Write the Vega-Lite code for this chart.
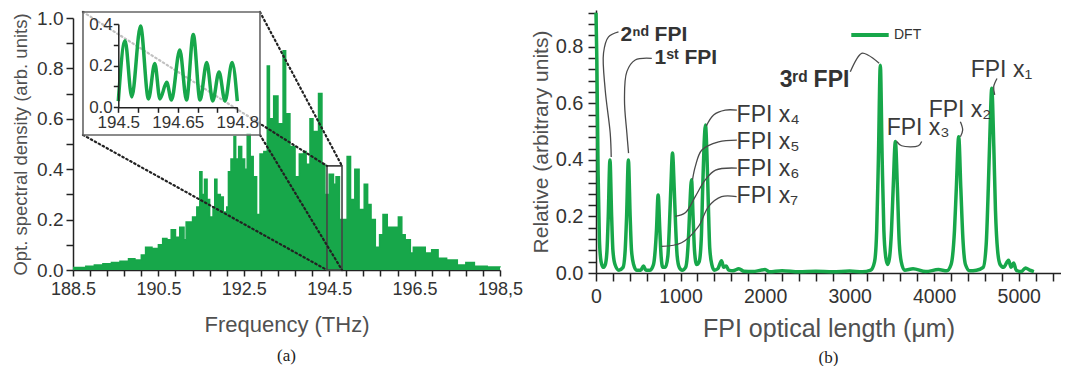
{
  "$schema": "https://vega.github.io/schema/vega-lite/v6.json",
  "background": "white",
  "padding": {"left": 11, "top": 2, "right": 0, "bottom": 0},
  "spacing": 7,
  "config": {
    "font": "Liberation Sans",
    "view": {"stroke": null},
    "axis": {"grid": false, "labelColor": "#333", "titleColor": "#505050", "domainColor": "#222", "tickColor": "#222", "domainWidth": 1.5, "tickWidth": 1.5, "titleFontWeight": "normal", "labelFont": "Liberation Sans", "titleFont": "Liberation Sans", "labelOverlap": false, "labelFlush": false, "tickCount": 100}
  },
  "datasets": {
    "spectrum": [
      {"f": 188.5, "v": 0.01}, {"f": 188.8, "v": 0.015}, {"f": 189.0, "v": 0.02}, {"f": 189.2, "v": 0.025}, {"f": 189.4, "v": 0.03}, {"f": 189.6, "v": 0.035}, {"f": 189.8, "v": 0.045}, {"f": 189.95, "v": 0.04}, {"f": 190.1, "v": 0.06}, {"f": 190.2, "v": 0.09}, {"f": 190.35, "v": 0.085}, {"f": 190.5, "v": 0.1}, {"f": 190.6, "v": 0.125}, {"f": 190.7, "v": 0.12}, {"f": 190.8, "v": 0.16}, {"f": 190.9, "v": 0.13}, {"f": 191.0, "v": 0.17}, {"f": 191.1, "v": 0.12}, {"f": 191.15, "v": 0.19}, {"f": 191.3, "v": 0.21}, {"f": 191.4, "v": 0.25}, {"f": 191.47, "v": 0.39}, {"f": 191.52, "v": 0.3}, {"f": 191.58, "v": 0.36}, {"f": 191.64, "v": 0.28}, {"f": 191.7, "v": 0.21}, {"f": 191.78, "v": 0.25}, {"f": 191.82, "v": 0.36}, {"f": 191.87, "v": 0.3}, {"f": 191.95, "v": 0.29}, {"f": 192.02, "v": 0.23}, {"f": 192.1, "v": 0.25}, {"f": 192.14, "v": 0.39}, {"f": 192.2, "v": 0.44}, {"f": 192.27, "v": 0.53}, {"f": 192.31, "v": 0.44}, {"f": 192.38, "v": 0.49}, {"f": 192.45, "v": 0.44}, {"f": 192.52, "v": 0.4}, {"f": 192.58, "v": 0.54}, {"f": 192.65, "v": 0.45}, {"f": 192.72, "v": 0.37}, {"f": 192.8, "v": 0.22}, {"f": 192.88, "v": 0.46}, {"f": 192.97, "v": 0.47}, {"f": 193.05, "v": 0.81}, {"f": 193.1, "v": 0.6}, {"f": 193.2, "v": 0.69}, {"f": 193.3, "v": 0.58}, {"f": 193.42, "v": 0.87}, {"f": 193.48, "v": 0.62}, {"f": 193.58, "v": 0.49}, {"f": 193.7, "v": 0.37}, {"f": 193.8, "v": 0.46}, {"f": 193.9, "v": 0.47}, {"f": 193.96, "v": 0.42}, {"f": 194.05, "v": 0.6}, {"f": 194.12, "v": 0.55}, {"f": 194.25, "v": 0.7}, {"f": 194.33, "v": 0.42}, {"f": 194.4, "v": 0.3}, {"f": 194.5, "v": 0.38}, {"f": 194.6, "v": 0.34}, {"f": 194.66, "v": 0.37}, {"f": 194.74, "v": 0.2}, {"f": 194.92, "v": 0.45}, {"f": 195.0, "v": 0.28}, {"f": 195.1, "v": 0.4}, {"f": 195.2, "v": 0.24}, {"f": 195.32, "v": 0.34}, {"f": 195.4, "v": 0.26}, {"f": 195.48, "v": 0.2}, {"f": 195.58, "v": 0.09}, {"f": 195.68, "v": 0.14}, {"f": 195.76, "v": 0.22}, {"f": 195.86, "v": 0.17}, {"f": 196.0, "v": 0.17}, {"f": 196.12, "v": 0.21}, {"f": 196.2, "v": 0.14}, {"f": 196.28, "v": 0.12}, {"f": 196.4, "v": 0.067}, {"f": 196.47, "v": 0.09}, {"f": 196.6, "v": 0.09}, {"f": 196.75, "v": 0.067}, {"f": 196.9, "v": 0.08}, {"f": 197.05, "v": 0.047}, {"f": 197.25, "v": 0.04}, {"f": 197.5, "v": 0.02}, {"f": 197.7, "v": 0.03}, {"f": 197.9, "v": 0.015}, {"f": 198.2, "v": 0.012}, {"f": 198.5, "v": 0.01}
    ],
    "zoomLines": [
      {"id": "L1", "f": 192.879, "v": 1.024}, {"id": "L1", "f": 194.8, "v": 0.413},
      {"id": "L2", "f": 192.879, "v": 0.536}, {"id": "L2", "f": 194.8, "v": 0.0},
      {"id": "L3", "f": 188.734, "v": 0.536}, {"id": "L3", "f": 194.448, "v": 0.0},
      {"id": "L4", "f": 188.734, "v": 1.024}, {"id": "L4", "f": 194.448, "v": 0.413}
    ],
    "insetBox": [{"f": 188.734, "f2": 192.879, "v": 0.536, "v2": 1.024}],
    "zoomRect": [{"f": 194.448, "f2": 194.8, "v": 0.0, "v2": 0.413}],
    "inset": [
      {"fi": 194.5, "vi": 0.03}, {"fi": 194.517, "vi": 0.32}, {"fi": 194.534, "vi": 0.05}, {"fi": 194.556, "vi": 0.39}, {"fi": 194.576, "vi": 0.04}, {"fi": 194.592, "vi": 0.21}, {"fi": 194.605, "vi": 0.04}, {"fi": 194.622, "vi": 0.12}, {"fi": 194.634, "vi": 0.035}, {"fi": 194.655, "vi": 0.275}, {"fi": 194.672, "vi": 0.035}, {"fi": 194.689, "vi": 0.35}, {"fi": 194.706, "vi": 0.035}, {"fi": 194.723, "vi": 0.215}, {"fi": 194.738, "vi": 0.03}, {"fi": 194.754, "vi": 0.17}, {"fi": 194.769, "vi": 0.03}, {"fi": 194.787, "vi": 0.215}, {"fi": 194.8, "vi": 0.03}
    ],
    "dft": [
      {"um": 0, "r": 0.92}, {"um": 10, "r": 0.75}, {"um": 25, "r": 0.35}, {"um": 40, "r": 0.12}, {"um": 60, "r": 0.04}, {"um": 85, "r": 0.02}, {"um": 110, "r": 0.03}, {"um": 130, "r": 0.08}, {"um": 145, "r": 0.2}, {"um": 165, "r": 0.4}, {"um": 185, "r": 0.2}, {"um": 200, "r": 0.08}, {"um": 225, "r": 0.03}, {"um": 270, "r": 0.01}, {"um": 320, "r": 0.02}, {"um": 345, "r": 0.08}, {"um": 362, "r": 0.2}, {"um": 383, "r": 0.4}, {"um": 404, "r": 0.2}, {"um": 420, "r": 0.08}, {"um": 445, "r": 0.03}, {"um": 480, "r": 0.01}, {"um": 530, "r": 0.01}, {"um": 562, "r": 0.025}, {"um": 590, "r": 0.01}, {"um": 640, "r": 0.01}, {"um": 680, "r": 0.03}, {"um": 700, "r": 0.08}, {"um": 715, "r": 0.15}, {"um": 735, "r": 0.276}, {"um": 755, "r": 0.15}, {"um": 770, "r": 0.06}, {"um": 790, "r": 0.02}, {"um": 820, "r": 0.02}, {"um": 850, "r": 0.06}, {"um": 870, "r": 0.18}, {"um": 885, "r": 0.3}, {"um": 905, "r": 0.424}, {"um": 925, "r": 0.3}, {"um": 940, "r": 0.18}, {"um": 960, "r": 0.06}, {"um": 985, "r": 0.02}, {"um": 1020, "r": 0.01}, {"um": 1060, "r": 0.02}, {"um": 1080, "r": 0.06}, {"um": 1098, "r": 0.15}, {"um": 1112, "r": 0.25}, {"um": 1130, "r": 0.33}, {"um": 1148, "r": 0.2}, {"um": 1165, "r": 0.08}, {"um": 1190, "r": 0.03}, {"um": 1220, "r": 0.04}, {"um": 1245, "r": 0.12}, {"um": 1262, "r": 0.3}, {"um": 1278, "r": 0.45}, {"um": 1295, "r": 0.523}, {"um": 1312, "r": 0.42}, {"um": 1328, "r": 0.25}, {"um": 1345, "r": 0.09}, {"um": 1370, "r": 0.03}, {"um": 1400, "r": 0.01}, {"um": 1440, "r": 0.015}, {"um": 1485, "r": 0.043}, {"um": 1510, "r": 0.02}, {"um": 1540, "r": 0.025}, {"um": 1570, "r": 0.01}, {"um": 1620, "r": 0.008}, {"um": 1690, "r": 0.015}, {"um": 1750, "r": 0.006}, {"um": 1850, "r": 0.005}, {"um": 2000, "r": 0.012}, {"um": 2050, "r": 0.004}, {"um": 2200, "r": 0.008}, {"um": 2400, "r": 0.004}, {"um": 2600, "r": 0.006}, {"um": 2800, "r": 0.004}, {"um": 3000, "r": 0.007}, {"um": 3150, "r": 0.004}, {"um": 3250, "r": 0.01}, {"um": 3295, "r": 0.04}, {"um": 3320, "r": 0.15}, {"um": 3340, "r": 0.4}, {"um": 3363, "r": 0.735}, {"um": 3385, "r": 0.4}, {"um": 3405, "r": 0.15}, {"um": 3430, "r": 0.05}, {"um": 3450, "r": 0.03}, {"um": 3470, "r": 0.05}, {"um": 3495, "r": 0.15}, {"um": 3515, "r": 0.3}, {"um": 3541, "r": 0.465}, {"um": 3565, "r": 0.3}, {"um": 3585, "r": 0.12}, {"um": 3610, "r": 0.04}, {"um": 3650, "r": 0.01}, {"um": 3750, "r": 0.015}, {"um": 3900, "r": 0.005}, {"um": 4050, "r": 0.012}, {"um": 4150, "r": 0.008}, {"um": 4200, "r": 0.03}, {"um": 4240, "r": 0.15}, {"um": 4262, "r": 0.3}, {"um": 4290, "r": 0.482}, {"um": 4315, "r": 0.3}, {"um": 4340, "r": 0.12}, {"um": 4370, "r": 0.03}, {"um": 4420, "r": 0.008}, {"um": 4500, "r": 0.01}, {"um": 4580, "r": 0.02}, {"um": 4615, "r": 0.1}, {"um": 4640, "r": 0.3}, {"um": 4660, "r": 0.5}, {"um": 4681, "r": 0.653}, {"um": 4705, "r": 0.45}, {"um": 4725, "r": 0.22}, {"um": 4750, "r": 0.08}, {"um": 4780, "r": 0.03}, {"um": 4820, "r": 0.02}, {"um": 4880, "r": 0.045}, {"um": 4910, "r": 0.02}, {"um": 4940, "r": 0.035}, {"um": 4970, "r": 0.01}, {"um": 5030, "r": 0.005}, {"um": 5080, "r": 0.018}, {"um": 5130, "r": 0.01}, {"um": 5180, "r": 0.005}
    ],
    "leaders": [
      {"id": "a", "i": 0, "um": 266, "r": 0.853}, {"id": "a", "i": 1, "um": 148, "r": 0.835}, {"id": "a", "i": 2, "um": 89, "r": 0.778}, {"id": "a", "i": 3, "um": 109, "r": 0.647}, {"id": "a", "i": 4, "um": 168, "r": 0.495}, {"id": "a", "i": 5, "um": 180, "r": 0.41},
      {"id": "b", "i": 0, "um": 660, "r": 0.759}, {"id": "b", "i": 1, "um": 464, "r": 0.753}, {"id": "b", "i": 2, "um": 365, "r": 0.712}, {"id": "b", "i": 3, "um": 337, "r": 0.612}, {"id": "b", "i": 4, "um": 365, "r": 0.495}, {"id": "b", "i": 5, "um": 385, "r": 0.424},
      {"id": "c", "i": 0, "um": 3008, "r": 0.712}, {"id": "c", "i": 1, "um": 3142, "r": 0.777}, {"id": "c", "i": 2, "um": 3221, "r": 0.77}, {"id": "c", "i": 3, "um": 3349, "r": 0.742},
      {"id": "d", "i": 0, "um": 1666, "r": 0.576}, {"id": "d", "i": 1, "um": 1529, "r": 0.576}, {"id": "d", "i": 2, "um": 1391, "r": 0.559}, {"id": "d", "i": 3, "um": 1305, "r": 0.52},
      {"id": "e", "i": 0, "um": 1666, "r": 0.47}, {"id": "e", "i": 1, "um": 1450, "r": 0.464}, {"id": "e", "i": 2, "um": 1252, "r": 0.435}, {"id": "e", "i": 3, "um": 1174, "r": 0.376}, {"id": "e", "i": 4, "um": 1142, "r": 0.33},
      {"id": "f", "i": 0, "um": 1666, "r": 0.371}, {"id": "f", "i": 1, "um": 1414, "r": 0.364}, {"id": "f", "i": 2, "um": 1292, "r": 0.329}, {"id": "f", "i": 3, "um": 1174, "r": 0.27}, {"id": "f", "i": 4, "um": 1056, "r": 0.213}, {"id": "f", "i": 5, "um": 937, "r": 0.2},
      {"id": "g", "i": 0, "um": 1663, "r": 0.27}, {"id": "g", "i": 1, "um": 1485, "r": 0.27}, {"id": "g", "i": 2, "um": 1331, "r": 0.235}, {"id": "g", "i": 3, "um": 1213, "r": 0.165}, {"id": "g", "i": 4, "um": 1012, "r": 0.107}, {"id": "g", "i": 5, "um": 775, "r": 0.094},
      {"id": "h", "i": 0, "um": 3852, "r": 0.465}, {"id": "h", "i": 1, "um": 3813, "r": 0.45}, {"id": "h", "i": 2, "um": 3615, "r": 0.45}, {"id": "h", "i": 3, "um": 3556, "r": 0.465},
      {"id": "k", "i": 0, "um": 4310, "r": 0.535}, {"id": "k", "i": 1, "um": 4337, "r": 0.506}, {"id": "k", "i": 2, "um": 4310, "r": 0.482},
      {"id": "m", "i": 0, "um": 4743, "r": 0.688}, {"id": "m", "i": 1, "um": 4704, "r": 0.659}, {"id": "m", "i": 2, "um": 4716, "r": 0.63}
    ],
    "boldLabels": [
      {"um": 290, "r": 0.841, "t": "2ⁿᵈ FPI"},
      {"um": 692, "r": 0.76, "t": "1ˢᵗ FPI"}
    ],
    "bigBoldLabels": [
      {"um": 2172, "r": 0.682, "t": "3ʳᵈ FPI"}
    ],
    "fpiLabels": [
      {"um": 1663, "r": 0.558, "t": "FPI x₄"},
      {"um": 1663, "r": 0.463, "t": "FPI x₅"},
      {"um": 1663, "r": 0.368, "t": "FPI x₆"},
      {"um": 1663, "r": 0.273, "t": "FPI x₇"},
      {"um": 3438, "r": 0.513, "t": "FPI x₃"},
      {"um": 3935, "r": 0.576, "t": "FPI x₂"},
      {"um": 4432, "r": 0.717, "t": "FPI x₁"}
    ]
  },
  "hconcat": [
    {
      "width": 427,
      "height": 260,
      "title": {"text": "(a)", "orient": "bottom", "font": "Liberation Serif", "fontSize": 17, "fontWeight": "normal", "color": "#222", "offset": 13},
      "layer": [
        {
          "layer": [
            {
              "data": {"name": "spectrum"},
              "mark": {"type": "area", "interpolate": "step-after", "color": "#17a74a", "opacity": 1, "line": {"color": "#17a74a", "strokeWidth": 1.5}},
              "encoding": {
                "x": {"field": "f", "type": "quantitative", "scale": {"domain": [188.5, 198.5], "nice": false, "zero": false},
                  "axis": {"title": "Frequency (THz)", "titleFontSize": 22, "labelFontSize": 18, "tickSize": 6, "labelPadding": 4, "titlePadding": 16, "labelOverlap": false, "labelFlush": false, "tickCount": 100,
                    "values": [188.5, 188.9, 189.3, 189.7, 190.1, 190.5, 190.9, 191.3, 191.7, 192.1, 192.5, 192.9, 193.3, 193.7, 194.1, 194.5, 194.9, 195.3, 195.7, 196.1, 196.5, 196.9, 197.3, 197.7, 198.1, 198.5],
                    "labelExpr": "abs((datum.value-188.5)/2 - round((datum.value-188.5)/2)) < 0.001 ? (datum.value > 198.4 ? '198,5' : format(datum.value, '.1f')) : ''"}},
                "y": {"field": "v", "type": "quantitative", "scale": {"domain": [0, 1], "range": [260, 8], "nice": false},
                  "axis": {"title": "Opt. spectral density (arb. units)", "titleFontSize": 18.5, "labelFontSize": 19, "tickSize": 7, "labelPadding": 3, "titlePadding": 6, "labelOverlap": false, "tickCount": 100,
                    "values": [0, 0.1, 0.2, 0.3, 0.4, 0.5, 0.6, 0.7, 0.8, 0.9, 1.0],
                    "labelExpr": "abs(datum.value*5 - round(datum.value*5)) < 0.001 ? format(datum.value, '.1f') : ''"}}
              }
            },
            {
              "data": {"name": "zoomRect"},
              "mark": {"type": "rect", "fill": null, "fillOpacity": 0, "stroke": "#444", "strokeWidth": 1.6},
              "encoding": {"x": {"field": "f", "type": "quantitative"}, "x2": {"field": "f2"}, "y": {"field": "v", "type": "quantitative"}, "y2": {"field": "v2"}}
            },
            {
              "data": {"name": "zoomLines"},
              "mark": {"type": "line", "color": "#222", "strokeWidth": 2.2, "strokeDash": [1.5, 3], "strokeCap": "round", "clip": false},
              "encoding": {"x": {"field": "f", "type": "quantitative"}, "y": {"field": "v", "type": "quantitative"}, "detail": {"field": "id"}}
            },
            {
              "data": {"name": "insetBox"},
              "mark": {"type": "rect", "fill": "white", "fillOpacity": 0.72, "stroke": "#666", "strokeWidth": 1.6, "clip": false},
              "encoding": {"x": {"field": "f", "type": "quantitative"}, "x2": {"field": "f2"}, "y": {"field": "v", "type": "quantitative"}, "y2": {"field": "v2"}}
            }
          ]
        },
        {
          "data": {"name": "inset"},
          "mark": {"type": "line", "interpolate": "monotone", "color": "#17a74a", "strokeWidth": 3.5},
          "encoding": {
            "x": {"field": "fi", "type": "quantitative", "scale": {"domain": [194.5, 194.8], "range": [45.3, 164.3], "nice": false, "zero": false},
              "axis": {"orient": "bottom", "offset": -162.7, "zindex": 2, "title": null, "labelFontSize": 17, "tickSize": 5, "labelPadding": 2, "labelOverlap": false, "labelFlush": false, "tickCount": 100,
                "values": [194.5, 194.55, 194.6, 194.65, 194.7, 194.75, 194.8],
                "labelExpr": "abs(datum.value-194.5)<0.001 ? '194.5' : abs(datum.value-194.65)<0.001 ? '194.65' : abs(datum.value-194.8)<0.001 ? '194.8' : ''"}},
            "y": {"field": "vi", "type": "quantitative", "scale": {"domain": [0, 0.4], "range": [97.3, 14], "nice": false},
              "axis": {"orient": "left", "offset": -45.3, "zindex": 2, "title": null, "labelFontSize": 17, "tickSize": 5, "labelPadding": 1, "labelOverlap": false, "tickCount": 100,
                "values": [0, 0.1, 0.2, 0.3, 0.4],
                "labelExpr": "abs(datum.value*5 - round(datum.value*5)) < 0.001 ? format(datum.value, '.1f') : ''"}}
          }
        }
      ],
      "resolve": {"scale": {"x": "independent", "y": "independent"}, "axis": {"x": "independent", "y": "independent"}}
    },
    {
      "width": 465,
      "height": 263,
      "title": {"text": "(b)", "orient": "bottom", "font": "Liberation Serif", "fontSize": 17, "fontWeight": "normal", "color": "#222", "offset": 8},
      "layer": [
        {
          "data": {"name": "dft"},
          "mark": {"type": "line", "interpolate": "monotone", "strokeWidth": 3.5},
          "encoding": {
            "x": {"field": "um", "type": "quantitative", "scale": {"domain": [0, 5500], "nice": false},
              "axis": {"title": "FPI optical length (μm)", "titleFontSize": 25, "labelFontSize": 19.5, "tickSize": 8, "labelPadding": 6, "titlePadding": 11, "labelOverlap": false, "labelFlush": false, "tickCount": 100,
                "values": [0, 200, 400, 600, 800, 1000, 1200, 1400, 1600, 1800, 2000, 2200, 2400, 2600, 2800, 3000, 3200, 3400, 3600, 3800, 4000, 4200, 4400, 4600, 4800, 5000, 5200, 5400],
                "labelExpr": "datum.value % 1000 === 0 ? format(datum.value, 'd') : ''"}},
            "y": {"field": "r", "type": "quantitative", "scale": {"domain": [0, 0.93], "nice": false},
              "axis": {"title": "Relative (arbitrary units)", "titleFontSize": 21, "labelFontSize": 20, "tickSize": 8, "labelPadding": 5, "titlePadding": 4, "labelOverlap": false, "tickCount": 100,
                "values": [0, 0.04, 0.08, 0.12, 0.16, 0.2, 0.24, 0.28, 0.32, 0.36, 0.4, 0.44, 0.48, 0.52, 0.56, 0.6, 0.64, 0.68, 0.72, 0.76, 0.8, 0.84, 0.88, 0.92],
                "labelExpr": "abs(datum.value*5 - round(datum.value*5)) < 0.001 ? format(datum.value, '.1f') : ''"}},
            "color": {"datum": "DFT", "type": "nominal", "scale": {"range": ["#17a74a"]},
              "legend": {"orient": "none", "legendX": 776, "legendY": 4, "title": null, "symbolType": "stroke", "symbolStrokeWidth": 4, "symbolSize": 1400, "labelFontSize": 14, "labelFont": "Liberation Sans", "labelColor": "#333", "padding": 0, "labelOffset": 3}}
          }
        },
        {
          "data": {"name": "leaders"},
          "mark": {"type": "line", "interpolate": "catmull-rom", "color": "#4a4a4a", "strokeWidth": 1.3},
          "encoding": {"x": {"field": "um", "type": "quantitative"}, "y": {"field": "r", "type": "quantitative"}, "detail": {"field": "id"}, "order": {"field": "i"}}
        },
        {
          "data": {"name": "boldLabels"},
          "mark": {"type": "text", "align": "left", "baseline": "middle", "fontSize": 21, "fontWeight": "bold", "color": "#333"},
          "encoding": {"x": {"field": "um", "type": "quantitative"}, "y": {"field": "r", "type": "quantitative"}, "text": {"field": "t"}}
        },
        {
          "data": {"name": "bigBoldLabels"},
          "mark": {"type": "text", "align": "left", "baseline": "middle", "fontSize": 23, "fontWeight": "bold", "color": "#333"},
          "encoding": {"x": {"field": "um", "type": "quantitative"}, "y": {"field": "r", "type": "quantitative"}, "text": {"field": "t"}}
        },
        {
          "data": {"name": "fpiLabels"},
          "mark": {"type": "text", "align": "left", "baseline": "middle", "fontSize": 23, "color": "#3a3a3a"},
          "encoding": {"x": {"field": "um", "type": "quantitative"}, "y": {"field": "r", "type": "quantitative"}, "text": {"field": "t"}}
        }
      ]
    }
  ]
}
